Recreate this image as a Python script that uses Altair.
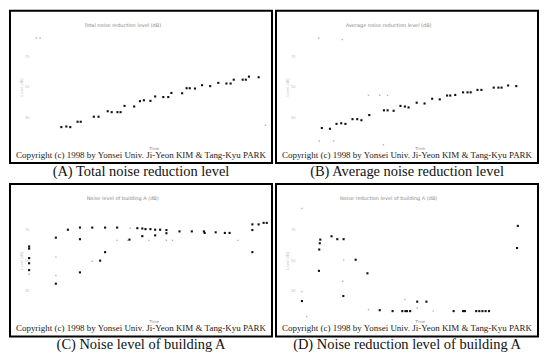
import altair as alt
import pandas as pd

# ---------------- data (arbitrary 0-100 units) -------------
a_x = [19.6, 21.5, 23.0, 25.8, 27.0, 32.0, 33.8, 37.3, 38.8, 41.0, 42.2, 43.7, 47.4,
       49.6, 51.1, 53.6, 55.4, 58.5, 60.4, 61.6, 65.7, 67.4, 68.6, 70.6, 73.3, 76.4,
       79.5, 82.6, 84.2, 85.4, 88.8, 90.0, 91.2, 94.9]
a_y = [23.6, 24.0, 23.6, 27.1, 27.1, 30.4, 30.4, 34.0, 33.4, 33.4, 33.4, 37.5, 37.1,
       40.6, 41.2, 40.8, 43.7, 43.3, 43.3, 46.0, 45.8, 49.1, 49.1, 48.9, 51.1, 50.5,
       52.6, 52.2, 52.2, 54.7, 54.7, 54.7, 56.7, 56.3]
a_fx = [10.0, 11.5, 97.5]
a_fy = [82.0, 82.0, 24.8]

b_x = [17.5, 20.6, 23.1, 24.9, 26.5, 29.2, 31.0, 32.6, 35.6, 41.2, 42.6, 44.9, 47.5,
       49.2, 50.6, 53.7, 56.7, 59.6, 62.5, 65.3, 66.5, 68.4, 71.4, 73.1, 74.3, 76.9,
       78.4, 83.1, 84.9, 86.1, 88.6, 91.7]
b_y = [23.0, 22.5, 25.7, 26.1, 25.7, 28.8, 28.8, 28.1, 31.5, 34.6, 34.6, 34.3, 37.5,
       37.1, 36.5, 39.6, 39.1, 42.2, 41.8, 44.3, 44.3, 44.7, 46.4, 46.4, 46.4, 48.0,
       48.0, 49.5, 49.5, 49.5, 50.9, 50.5]
b_fx = [16.3, 35.3, 39.6, 42.6, 25.3, 16.5, 22.0, 41.0]
b_fy = [82.0, 44.5, 44.5, 44.5, 81.0, 14.5, 14.5, 12.0]

c_x = [7.3, 7.3, 7.3, 7.3, 7.3, 17.5, 17.5, 22.1, 26.7, 26.7, 26.7, 31.4, 34.4,
       36.3, 36.3, 40.9, 45.6, 48.6, 50.5, 50.5, 51.7, 53.6, 55.4, 55.4, 57.3, 59.7,
       59.7, 64.7, 69.4, 74.0, 74.3, 78.5, 82.0, 83.8, 92.5, 92.5, 92.5, 94.9, 96.8,
       98.0]
c_y = [59.0, 57.6, 51.4, 48.0, 43.5, 64.8, 34.6, 70.0, 71.4, 63.8, 42.0, 71.4, 49.7,
       71.4, 55.3, 71.4, 63.5, 71.0, 65.8, 70.8, 70.4, 70.4, 66.3, 70.0, 70.0, 69.8,
       67.7, 68.9, 68.9, 68.9, 67.9, 68.3, 67.9, 67.9, 73.5, 69.8, 55.3, 73.5, 74.5,
       74.5]
c_fx = [7.3, 17.5, 17.5, 31.4, 45.9, 45.0, 59.7, 87.0, 40.9, 53.0, 62.0]
c_fy = [40.8, 52.0, 40.0, 49.3, 71.0, 63.0, 63.0, 63.0, 63.0, 63.0, 63.0]

d_x = [16.9, 16.7, 16.5, 16.4, 21.2, 23.4, 25.8, 30.4, 34.9, 25.7, 9.9, 39.6, 44.5,
       48.2, 49.4, 50.0, 51.2, 53.9, 57.4, 67.8, 71.4, 72.1, 76.4, 77.6, 78.8, 80.0,
       81.3, 92.3, 92.0]
d_y = [63.5, 61.1, 57.0, 43.0, 65.7, 63.8, 63.8, 50.3, 41.4, 26.5, 23.2, 17.2, 16.6,
       16.6, 16.6, 16.6, 16.6, 22.8, 22.8, 16.6, 16.6, 16.6, 16.6, 16.6, 16.6, 16.6,
       16.6, 72.5, 58.0]
d_fx = [9.9, 25.8, 25.5, 9.9, 11.7, 35.3, 49.2, 53.9, 60.0]
d_fy = [83.9, 50.1, 36.2, 29.4, 13.0, 17.6, 24.2, 18.6, 16.6]

tick_vals = [30, 35, 40, 45, 50, 55, 60, 65, 70, 75]

captions = ["(A) Total noise reduction level",
            "(B) Average noise reduction level",
            "(C) Noise level of building A",
            "(D) Noise reduction level of building A"]
inner_titles = ["Total noise reduction level (dB)",
                "Average noise reduction level (dB)",
                "Noise level of building A (dB)",
                "Noise reduction level of building A (dB)"]
copyright_text = "Copyright (c) 1998 by Yonsei Univ. Ji-Yeon KIM & Tang-Kyu PARK"

W, H = 263, 153


def panel(xs, ys, fxs, fys, caption, inner):
    main = pd.DataFrame({"x": xs, "y": ys})
    faint = pd.DataFrame({"x": fxs, "y": fys})
    xsc = alt.Scale(domain=[0, 100], nice=False, zero=False)
    ysc = alt.Scale(domain=[0, 100], nice=False, zero=False)
    xax = alt.Axis(labels=False, ticks=False, domain=False, grid=False, title=None)
    yax = alt.Axis(values=tick_vals, offset=-20, domain=False, ticks=False, grid=False,
                   labelFontSize=4, labelColor="#bdbdbd", labelPadding=1,
                   title="Level (dB)", titleFontSize=4, titleColor="#c8c8c8",
                   titlePadding=1, titleFontWeight="normal")
    pts = alt.Chart(main).mark_point(shape="square", filled=True, size=4.5,
                                     color="#111111", opacity=1).encode(
        x=alt.X("x:Q", scale=xsc, axis=xax),
        y=alt.Y("y:Q", scale=ysc, axis=yax))
    fpts = alt.Chart(faint).mark_point(shape="square", filled=True, size=2,
                                       color="#b5b5b5", opacity=1).encode(
        x=alt.X("x:Q", scale=xsc), y=alt.Y("y:Q", scale=ysc))
    ttl = alt.Chart(pd.DataFrame({"t": [inner]})).mark_text(
        fontSize=5, color="#8a8a8a", font="DejaVu Sans").encode(
        x=alt.value(W * 0.43), y=alt.value(14), text="t:N")
    xt = alt.Chart(pd.DataFrame({"t": ["Time"]})).mark_text(
        fontSize=4, color="#8a8a8a", font="DejaVu Sans").encode(
        x=alt.value(W * 0.55), y=alt.value(H - 14), text="t:N")
    cp = alt.Chart(pd.DataFrame({"t": [copyright_text]})).mark_text(
        fontSize=9, color="#1a1a1a", font="Liberation Serif").encode(
        x=alt.value(W / 2), y=alt.value(H - 8), text="t:N")
    return alt.layer(fpts, pts, ttl, xt, cp).properties(
        width=W, height=H,
        title=alt.TitleParams(caption, orient="bottom", fontSize=14.5,
                              font="Liberation Serif", fontWeight="normal",
                              color="#111111", offset=2))


pA = panel(a_x, a_y, a_fx, a_fy, captions[0], inner_titles[0])
pB = panel(b_x, b_y, b_fx, b_fy, captions[1], inner_titles[1])
pC = panel(c_x, c_y, c_fx, c_fy, captions[2], inner_titles[2])
pD = panel(d_x, d_y, d_fx, d_fy, captions[3], inner_titles[3])

chart = alt.vconcat(
    alt.hconcat(pA, pB, spacing=2),
    alt.hconcat(pC, pD, spacing=2),
    spacing=3,
).properties(padding=1, background="white").configure_view(
    stroke="#000000", strokeWidth=2
)

chart.save("out.html", embed_options={"renderer": "svg", "actions": False})
